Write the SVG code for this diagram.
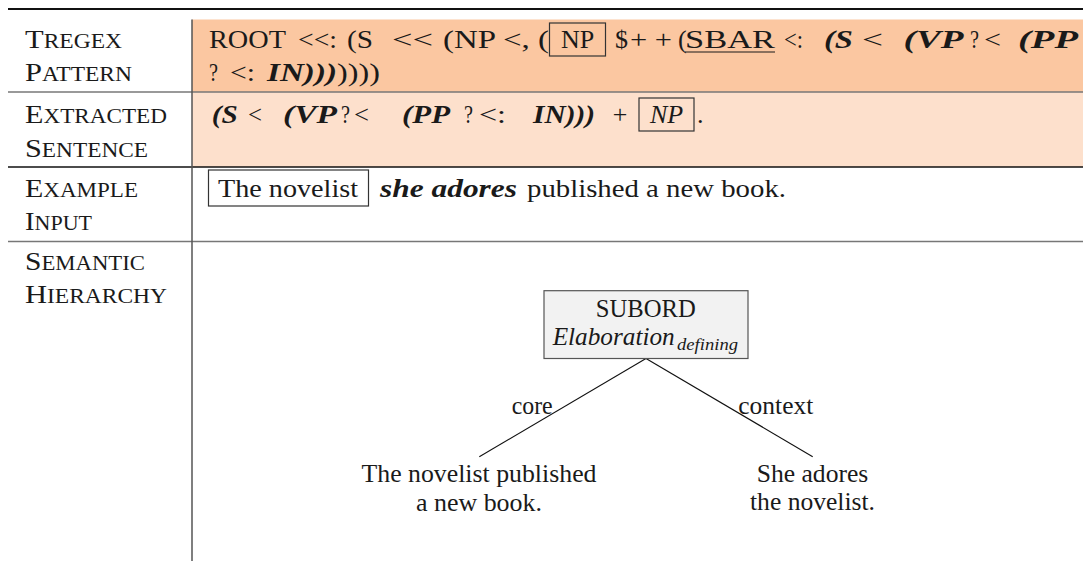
<svg xmlns="http://www.w3.org/2000/svg" width="1083" height="561" viewBox="0 0 1083 561">
<style>
text{font-family:'Liberation Serif',serif;fill:#1a1a1a;}
.t{font-size:26px;}
.bi{font-weight:bold;font-style:italic;}
.it{font-style:italic;}
.sc{font-size:20px;}
.lab{font-size:26px;}
.tr{font-size:24.5px;}
.fb{fill:none;stroke:#333;stroke-width:1.2;}
.sep-g{stroke:#777;stroke-width:1.5;}
.sep-b{stroke:#111;stroke-width:1.5;}
.edge{stroke:#111;stroke-width:1.1;fill:none;}
</style>
<rect x="0" y="0" width="1083" height="561" fill="#ffffff"/>
<g id="table">
  <rect x="192" y="19.5" width="891" height="72.5" fill="#FBC7A1"/>
  <rect x="192" y="92" width="891" height="75" fill="#FDE0CC"/>
  <line x1="8" y1="9" x2="1083" y2="9" stroke="#111" stroke-width="2.2"/>
  <line class="sep-g" x1="8" y1="92" x2="1083" y2="92"/>
  <line class="sep-b" x1="8" y1="167" x2="1083" y2="167"/>
  <line class="sep-g" x1="8" y1="241.5" x2="1083" y2="241.5"/>
  <line x1="192" y1="19.5" x2="192" y2="561" stroke="#555" stroke-width="1.5"/>
</g>
<g id="labels">
  <text class="lab" x="25" y="47.7" textLength="97" lengthAdjust="spacingAndGlyphs">T<tspan class="sc">REGEX</tspan></text>
  <text class="lab" x="25" y="80.5" textLength="107" lengthAdjust="spacingAndGlyphs">P<tspan class="sc">ATTERN</tspan></text>
  <text class="lab" x="25" y="123.3" textLength="142" lengthAdjust="spacingAndGlyphs">E<tspan class="sc">XTRACTED</tspan></text>
  <text class="lab" x="25" y="156.7" textLength="123" lengthAdjust="spacingAndGlyphs">S<tspan class="sc">ENTENCE</tspan></text>
  <text class="lab" x="25" y="196.7" textLength="113" lengthAdjust="spacingAndGlyphs">E<tspan class="sc">XAMPLE</tspan></text>
  <text class="lab" x="25" y="230" textLength="67" lengthAdjust="spacingAndGlyphs">I<tspan class="sc">NPUT</tspan></text>
  <text class="lab" x="25" y="270" textLength="120" lengthAdjust="spacingAndGlyphs">S<tspan class="sc">EMANTIC</tspan></text>
  <text class="lab" x="25" y="303.3" textLength="142" lengthAdjust="spacingAndGlyphs">H<tspan class="sc">IERARCHY</tspan></text>
</g>
<g id="pattern">
  <text class="t" x="209" y="48" textLength="77" lengthAdjust="spacingAndGlyphs">ROOT</text>
  <text class="t" x="298" y="48" textLength="39" lengthAdjust="spacingAndGlyphs">&lt;&lt;:</text>
  <text class="t" x="347" y="48" textLength="26" lengthAdjust="spacingAndGlyphs">(S</text>
  <text class="t" x="392" y="48" textLength="41" lengthAdjust="spacingAndGlyphs">&lt;&lt;</text>
  <text class="t" x="443" y="48" textLength="106" lengthAdjust="spacingAndGlyphs">(NP &lt;, (</text>
  <rect class="fb" x="549.5" y="23" width="56" height="33"/>
  <text class="t" x="577.5" y="48" text-anchor="middle">NP</text>
  <text class="t" x="615" y="48">$</text>
  <text class="t" x="630" y="48" textLength="42" lengthAdjust="spacingAndGlyphs">+ +</text>
  <text class="t" x="678" y="48">(</text>
  <text class="t" x="685" y="48" textLength="90" lengthAdjust="spacingAndGlyphs">SBAR</text>
  <line x1="685" y1="52" x2="775" y2="52" stroke="#1a1a1a" stroke-width="1.2"/>
  <text class="t" x="784" y="48" textLength="19" lengthAdjust="spacingAndGlyphs">&lt;:</text>
  <text class="t bi" x="824" y="48" textLength="29" lengthAdjust="spacingAndGlyphs">(S</text>
  <text class="t" x="862" y="48" textLength="21" lengthAdjust="spacingAndGlyphs">&lt;</text>
  <text class="t bi" x="903.6" y="48" textLength="60" lengthAdjust="spacingAndGlyphs">(VP</text>
  <text class="t" x="970" y="48" textLength="9" lengthAdjust="spacingAndGlyphs">?</text>
  <text class="t" x="984" y="48" textLength="17" lengthAdjust="spacingAndGlyphs">&lt;</text>
  <text class="t bi" x="1018" y="48" textLength="60" lengthAdjust="spacingAndGlyphs">(PP</text>
  <text class="t" x="209" y="80.5" textLength="9" lengthAdjust="spacingAndGlyphs">?</text>
  <text class="t" x="230" y="80.5" textLength="25" lengthAdjust="spacingAndGlyphs">&lt;:</text>
  <text class="t bi" x="267" y="80.5" textLength="70" lengthAdjust="spacingAndGlyphs">IN)))</text>
  <text class="t" x="337" y="80.5" textLength="43" lengthAdjust="spacingAndGlyphs">))))</text>
</g>
<g id="extracted">
  <text class="t bi" x="211.7" y="123" textLength="26" lengthAdjust="spacingAndGlyphs">(S</text>
  <text class="t" x="248" y="123" textLength="14" lengthAdjust="spacingAndGlyphs">&lt;</text>
  <text class="t bi" x="283" y="123" textLength="54" lengthAdjust="spacingAndGlyphs">(VP</text>
  <text class="t" x="341" y="123" textLength="9" lengthAdjust="spacingAndGlyphs">?</text>
  <text class="t" x="354" y="123" textLength="15" lengthAdjust="spacingAndGlyphs">&lt;</text>
  <text class="t bi" x="402" y="123" textLength="48" lengthAdjust="spacingAndGlyphs">(PP</text>
  <text class="t" x="464" y="123" textLength="9" lengthAdjust="spacingAndGlyphs">?</text>
  <text class="t" x="479" y="123" textLength="27" lengthAdjust="spacingAndGlyphs">&lt;:</text>
  <text class="t bi" x="533" y="123" textLength="62" lengthAdjust="spacingAndGlyphs">IN)))</text>
  <text class="t it" x="611" y="123">+</text>
  <rect class="fb" x="639" y="98" width="55" height="33"/>
  <text class="t it" x="666.5" y="123" text-anchor="middle">NP</text>
  <text class="t" x="697" y="123">.</text>
</g>
<g id="example">
  <rect class="fb" x="208.5" y="170" width="160" height="36"/>
  <text class="t" x="218" y="197" textLength="140" lengthAdjust="spacingAndGlyphs">The novelist</text>
  <text class="t bi" x="380" y="197" textLength="137" lengthAdjust="spacingAndGlyphs">she adores</text>
  <text class="t" x="527" y="197" textLength="259" lengthAdjust="spacingAndGlyphs">published a new book.</text>
</g>
<g id="connectors">
  <line class="edge" x1="646" y1="358.5" x2="479.3" y2="456.7"/>
  <line class="edge" x1="646" y1="358.5" x2="812.7" y2="456.7"/>
  <text class="tr" x="511.7" y="414" textLength="41" lengthAdjust="spacingAndGlyphs">core</text>
  <text class="tr" x="738.3" y="414" textLength="75" lengthAdjust="spacingAndGlyphs">context</text>
</g>
<g id="node-subord">
  <rect x="544" y="290.7" width="204" height="67.8" fill="#F2F2F2" stroke="#555" stroke-width="1.2"/>
  <text class="tr" x="645.7" y="316.7" text-anchor="middle" textLength="100" lengthAdjust="spacingAndGlyphs">SUBORD</text>
  <text class="tr it" x="552.7" y="345" textLength="122" lengthAdjust="spacingAndGlyphs">Elaboration</text>
  <text class="it" x="677" y="350" font-size="17" textLength="61" lengthAdjust="spacingAndGlyphs">defining</text>
</g>
<g id="node-core">
  <text class="tr" x="479" y="481.7" text-anchor="middle" textLength="235" lengthAdjust="spacingAndGlyphs">The novelist published</text>
  <text class="tr" x="479" y="510.5" text-anchor="middle" textLength="126" lengthAdjust="spacingAndGlyphs">a new book.</text>
</g>
<g id="node-context">
  <text class="tr" x="812.5" y="481.7" text-anchor="middle" textLength="111.6" lengthAdjust="spacingAndGlyphs">She adores</text>
  <text class="tr" x="812.5" y="509.5" text-anchor="middle" textLength="125" lengthAdjust="spacingAndGlyphs">the novelist.</text>
</g>
</svg>
